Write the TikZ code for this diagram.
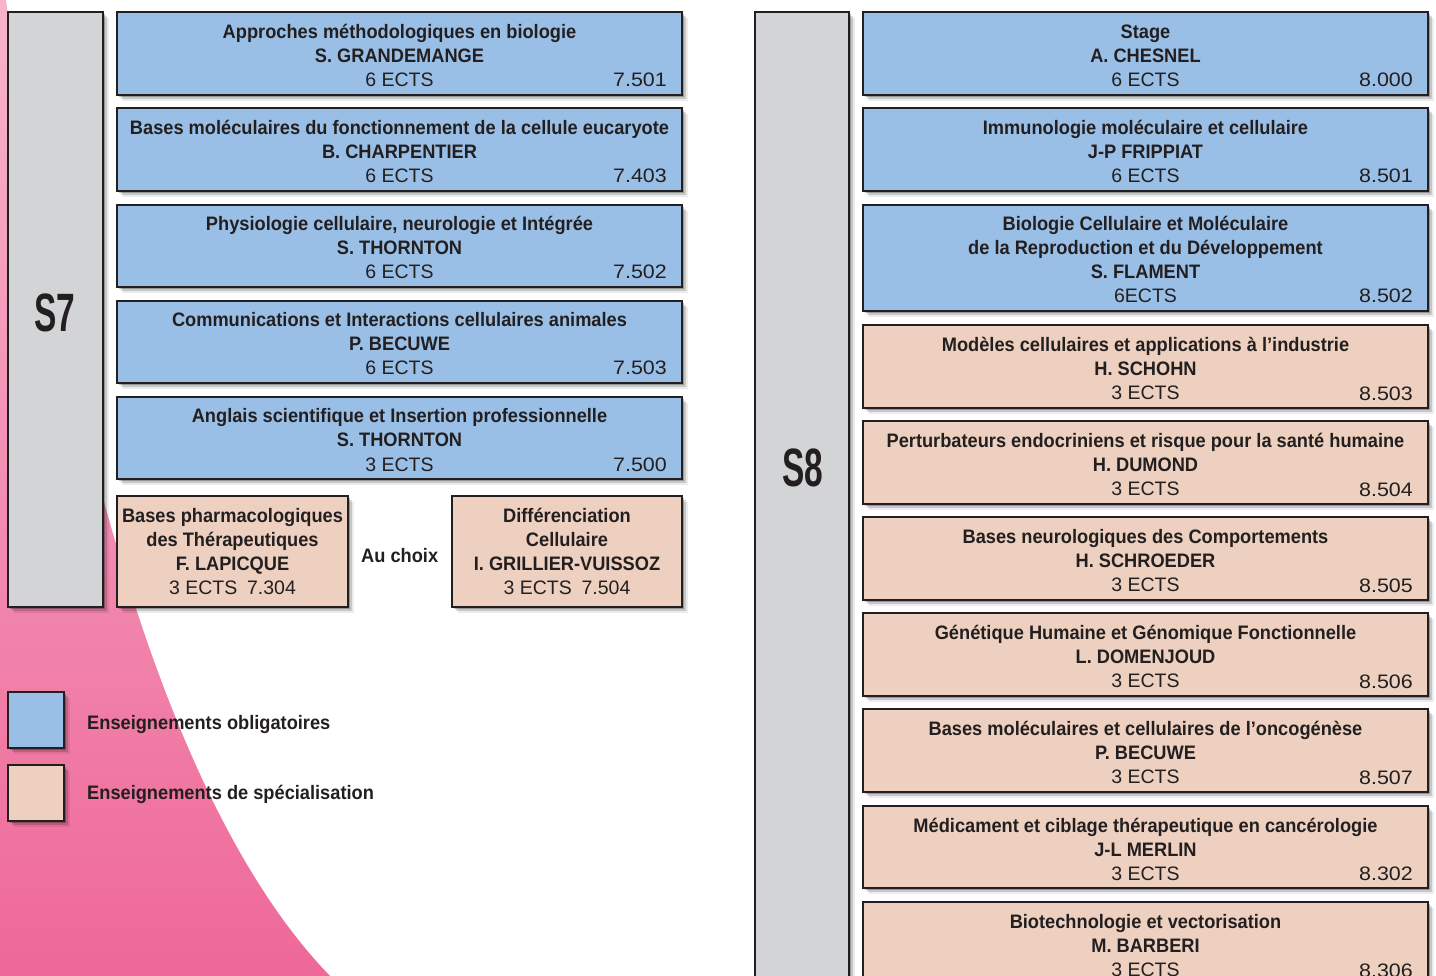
\documentclass[tikz,border=0pt]{standalone}
\usepackage{fontspec}
\setmainfont{Liberation Sans}
\newfontfamily\bfont{Liberation Sans}[FakeStretch=0.935]
\newfontfamily\rfont{Liberation Sans}[FakeStretch=1.0]
\newfontfamily\cfont{Liberation Sans}[FakeStretch=1.1]
\newfontfamily\semfont{Liberation Sans}[FakeStretch=0.62]
\usetikzlibrary{shadows}
\definecolor{lineC}{HTML}{231F20}
\definecolor{blueF}{HTML}{9ABFE6}
\definecolor{tanF}{HTML}{EDD0BF}
\definecolor{grayF}{HTML}{D3D4D6}
\definecolor{pinkT}{HTML}{F7B4CB}
\definecolor{pinkB}{HTML}{EE6898}
\newcommand\reg{\rfont\mdseries}
\newcommand\topstrut{\rule{0pt}{19pt}}
\newcommand\botstrut{\rule[-1pt]{0pt}{1pt}}
\tikzset{
  softshadow/.style={
    drop shadow={shadow xshift=2pt, shadow yshift=-2pt, opacity=.25, fill=black},
    drop shadow={shadow xshift=4pt, shadow yshift=-4pt, opacity=.15, fill=black},
    drop shadow={shadow xshift=6pt, shadow yshift=-6pt, opacity=.08, fill=black}},
  cbox/.style={draw=lineC, line width=1.8pt, inner sep=0pt, align=center,
    font=\bfont\bfseries\fontsize{19.5}{24}\selectfont, text=lineC, softshadow},
  codetxt/.style={inner sep=0pt, font=\cfont\mdseries\fontsize{19.5}{24}\selectfont, text=lineC},
  sembox/.style={draw=lineC, line width=1.8pt, fill=grayF, inner sep=0pt, softshadow},
  semlabel/.style={inner sep=0pt, font=\semfont\bfseries\fontsize{54}{54}\selectfont, text=lineC},
  lgtext/.style={inner sep=0pt, anchor=base west, font=\bfont\bfseries\fontsize{19.5}{24}\selectfont, text=lineC},
}
% #1 name, #2 left, #3 top, #4 right, #5 bottom, #6 fill, #7 content, #8 code
\newcommand\cours[8]{%
  \node[cbox, fill=#6, minimum width={#4-#2}, minimum height={#5-#3}] (#1) at ({(#2+#4)/2},{(#3+#5)/2}) {\topstrut#7\botstrut};
  \node[codetxt, anchor=base east] (#1c) at ({#4-15},{#5-8}) {#8};
}
\begin{document}
\begin{tikzpicture}[x=1pt,y=-1pt]
\clip (0,0) rectangle (1436,976);
\fill[white] (0,0) rectangle (1436,976);
% pink background
\shade[top color=pinkT, bottom color=pinkB]
  (0,0) -- (6,0) .. controls (50,320) and (140,780) .. (330,976) -- (0,976) -- cycle;

% S7 column
\node[sembox, minimum width=95, minimum height=595] (s7box) at (55.5,309.5) {};
\node[semlabel] (s7) at (55,313) {S7};

\cours{a1}{117}{12}{682}{95}{blueF}{Approches méthodologiques en biologie\\S. GRANDEMANGE\\{\reg 6 ECTS}}{7.501}
\cours{a2}{117}{108}{682}{191}{blueF}{Bases moléculaires du fonctionnement de la cellule eucaryote\\B. CHARPENTIER\\{\reg 6 ECTS}}{7.403}
\cours{a3}{117}{205}{682}{287}{blueF}{Physiologie cellulaire, neurologie et Intégrée\\S. THORNTON\\{\reg 6 ECTS}}{7.502}
\cours{a4}{117}{301}{682}{383}{blueF}{Communications et Interactions cellulaires animales\\P. BECUWE\\{\reg 6 ECTS}}{7.503}
\cours{a5}{117}{397}{682}{479}{blueF}{Anglais scientifique et Insertion professionnelle\\S. THORNTON\\{\reg 3 ECTS}}{7.500}

\node[cbox, fill=tanF, minimum width=231, minimum height=111] (a6) at (232.5,551.5)
  {Bases pharmacologiques\\des Thérapeutiques\\F. LAPICQUE\\{\reg 3 ECTS\enspace 7.304}};
\node[cbox, fill=tanF, minimum width=230, minimum height=111] (a7) at (567,551.5)
  {Différenciation\\Cellulaire\\I. GRILLIER-VUISSOZ\\{\reg 3 ECTS\enspace 7.504}};
\node[lgtext] (auch) at (361,562) {Au choix};

% legend
\node[cbox, fill=blueF, minimum width=56, minimum height=56] (lg1) at (36,720) {};
\node[cbox, fill=tanF, minimum width=56, minimum height=56] (lg2) at (36,793) {};
\node[lgtext] (lg1t) at (87,729) {Enseignements obligatoires};
\node[lgtext] (lg2t) at (87,799) {Enseignements de spécialisation};

% S8 column
\node[sembox, minimum width=94, minimum height=990] (s8box) at (802,507) {};
\node[semlabel] (s8) at (803,468) {S8};

\cours{b1}{863}{12}{1428}{95}{blueF}{Stage\\A. CHESNEL\\{\reg 6 ECTS}}{8.000}
\cours{b2}{863}{108}{1428}{191}{blueF}{Immunologie moléculaire et cellulaire\\J-P FRIPPIAT\\{\reg 6 ECTS}}{8.501}
\cours{b3}{863}{205}{1428}{311}{blueF}{Biologie Cellulaire et Moléculaire\\de la Reproduction et du Développement\\S. FLAMENT\\{\reg 6ECTS}}{8.502}
\cours{b4}{863}{325}{1428}{408}{tanF}{Modèles cellulaires et applications à l’industrie\\H. SCHOHN\\{\reg 3 ECTS}}{8.503}
\cours{b5}{863}{421}{1428}{504}{tanF}{Perturbateurs endocriniens et risque pour la santé humaine\\H. DUMOND\\{\reg 3 ECTS}}{8.504}
\cours{b6}{863}{517}{1428}{600}{tanF}{Bases neurologiques des Comportements\\H. SCHROEDER\\{\reg 3 ECTS}}{8.505}
\cours{b7}{863}{613}{1428}{696}{tanF}{Génétique Humaine et Génomique Fonctionnelle\\L. DOMENJOUD\\{\reg 3 ECTS}}{8.506}
\cours{b8}{863}{709}{1428}{792}{tanF}{Bases moléculaires et cellulaires de l’oncogénèse\\P. BECUWE\\{\reg 3 ECTS}}{8.507}
\cours{b9}{863}{806}{1428}{888}{tanF}{Médicament et ciblage thérapeutique en cancérologie\\J-L MERLIN\\{\reg 3 ECTS}}{8.302}
\cours{b10}{863}{902}{1428}{985}{tanF}{Biotechnologie et vectorisation\\M. BARBERI\\{\reg 3 ECTS}}{8.306}
\end{tikzpicture}
\end{document}
